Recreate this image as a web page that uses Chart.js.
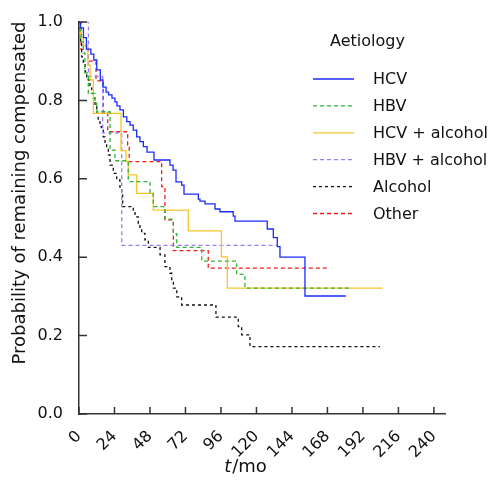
<!DOCTYPE html>
<html>
<head>
<meta charset="utf-8">
<script src="https://cdn.jsdelivr.net/npm/chart.js@4.4.1/dist/chart.umd.min.js"></script>
<style>
html, body { margin: 0; padding: 0; background: #fff; }
</style>
</head>
<body>
<canvas id="chart_km" width="496" height="481"></canvas>
<script>
// Kaplan-Meier steps: [month, probability after the drop]
const hcv = [[0,1],[1,0.985],[3,0.96],[5,0.931],[8,0.918],[10,0.903],[12,0.878],[14.4,0.852],[16.2,0.834],[18.3,0.821],[20,0.814],[22.3,0.806],[24.3,0.796],[25.7,0.786],[27.7,0.776],[30,0.758],[32.3,0.746],[34.5,0.737],[36.7,0.724],[39,0.707],[41.2,0.695],[43.5,0.682],[46,0.668],[50.7,0.648],[61.5,0.635],[63.6,0.622],[65.6,0.592],[69.4,0.584],[71,0.561],[80.7,0.548],[81.8,0.543],[85.2,0.536],[92,0.523],[95.3,0.516],[104.3,0.505],[105.5,0.492],[127.3,0.472],[131.4,0.45],[134.1,0.427],[135.9,0.4],[152.8,0.301],[180.5,0.301]];
const hbv = [[0,1],[0.7,0.95],[2.9,0.921],[4,0.87],[6.3,0.818],[10.8,0.793],[12,0.771],[21,0.673],[24.3,0.646],[33.3,0.593],[48,0.563],[50.2,0.529],[58.1,0.497],[63.8,0.46],[66.1,0.425],[83,0.39],[106.6,0.356],[112.2,0.321],[184.4,0.321]];
const hcvAlcohol = [[0,1],[1,0.96],[3,0.94],[6,0.89],[7.5,0.852],[9.7,0.767],[28.4,0.672],[31.8,0.644],[33.3,0.61],[39,0.563],[50.2,0.52],[73.9,0.467],[96.3,0.401],[100.3,0.321],[205.3,0.321]];
const hbvAlcohol = [[0,1],[6.4,0.861],[16,0.717],[28.9,0.43],[134,0.43]];
const alcohol = [[0,1],[0.7,0.98],[1.1,0.946],[1.8,0.911],[2.9,0.895],[4.1,0.873],[5.2,0.86],[6.3,0.852],[7.4,0.835],[8.6,0.818],[9.7,0.806],[10.8,0.784],[12,0.767],[13,0.746],[14.2,0.733],[15.3,0.724],[16.4,0.707],[17.6,0.691],[18.7,0.678],[19.8,0.661],[21,0.635],[23.2,0.614],[25.5,0.597],[27.7,0.576],[28.9,0.563],[29.5,0.529],[36.7,0.516],[37.9,0.503],[40.1,0.486],[41.2,0.474],[42.4,0.461],[44.6,0.444],[46.9,0.425],[54.8,0.406],[58.1,0.376],[61.5,0.359],[62.7,0.338],[63.8,0.321],[66.1,0.299],[69.4,0.278],[92.6,0.247],[107.7,0.223],[110,0.202],[115.6,0.172],[203.5,0.172]];
const other = [[0,1],[1.4,0.93],[6.2,0.9],[11.5,0.85],[16.4,0.771],[19.4,0.72],[32.9,0.686],[34,0.644],[55.9,0.58],[58.1,0.495],[63.8,0.417],[87.4,0.372],[167.5,0.372]];

const aetiologies = ['HCV', 'HBV', 'HCV + alcohol', 'HBV + alcohol', 'Alcohol', 'Other'];
const xTicks = [0, 24, 48, 72, 96, 120, 144, 168, 192, 216, 240];
const yTicks = [0, 0.2, 0.4, 0.6, 0.8, 1.0];

const styles = [
    { color: '#1a2bff', dash: [] },
    { color: '#30b530', dash: [4, 3] },
    { color: '#f7c52a', dash: [] },
    { color: '#9b7bf7', dash: [4, 3] },
    { color: '#111111', dash: [3, 3] },
    { color: '#f21c1c', dash: [4, 3] }
];
const FONT = '"DejaVu Sans", Verdana, sans-serif';

const kmDecor = {
    id: 'kmDecor',
    afterDatasetsDraw(chart) {
        const ctx = chart.ctx, x = chart.scales.x, y = chart.scales.y;
        ctx.save();
        // inward ticks
        ctx.strokeStyle = '#333';
        ctx.lineWidth = 1.5;
        ctx.setLineDash([]);
        ctx.beginPath();
        xTicks.forEach(v => {
            const px = x.getPixelForValue(v);
            ctx.moveTo(px, y.bottom); ctx.lineTo(px, y.bottom - 7);
        });
        yTicks.forEach(v => {
            const py = y.getPixelForValue(v);
            ctx.moveTo(x.left, py); ctx.lineTo(x.left + 8, py);
        });
        ctx.stroke();

        // legend
        ctx.fillStyle = '#111';
        ctx.font = '16px ' + FONT;
        ctx.textBaseline = 'middle';
        ctx.textAlign = 'left';
        ctx.fillText('Aetiology', 330, 42);
        chart.data.datasets.forEach((ds, i) => {
            const ly = 79 + 26.9 * i;
            ctx.strokeStyle = ds.borderColor;
            ctx.lineWidth = 1.3;
            ctx.setLineDash(ds.borderDash);
            ctx.beginPath();
            ctx.moveTo(313, ly); ctx.lineTo(354, ly);
            ctx.stroke();
            ctx.fillText(ds.label, 373, ly + 1);
        });
        ctx.setLineDash([]);

        // axis titles
        ctx.font = '18px ' + FONT;
        ctx.textAlign = 'center';
        ctx.save();
        ctx.translate(20, 193);
        ctx.rotate(-Math.PI / 2);
        ctx.fillText('Probability of remaining compensated', 0, 0);
        ctx.restore();

        ctx.textAlign = 'left';
        ctx.font = 'italic 18px ' + FONT;
        const wT = ctx.measureText('t').width;
        ctx.font = '18px ' + FONT;
        const wMo = ctx.measureText('/mo').width;
        const x0 = 245 - (wT + wMo) / 2;
        ctx.font = 'italic 18px ' + FONT;
        ctx.fillText('t', x0, 467);
        ctx.font = '18px ' + FONT;
        ctx.fillText('/mo', x0 + wT + 1, 467);
        ctx.restore();
    }
};

new Chart(document.getElementById('chart_km'), {
    type: 'line',
    data: {
        datasets: [hcv, hbv, hcvAlcohol, hbvAlcohol, alcohol, other].map((s, i) => ({
            label: aetiologies[i],
            data: s.map(kv => ({ x: kv[0], y: kv[1] })),
            borderColor: styles[i].color,
            borderDash: styles[i].dash,
            borderWidth: 1.3,
            stepped: true,
            pointRadius: 0,
            fill: false
        }))
    },
    options: {
        responsive: false,
        animation: false,
        layout: { padding: { top: 22, right: 51, left: 0, bottom: 0 } },
        scales: {
            x: {
                type: 'linear',
                min: 0,
                max: 247.5,
                afterBuildTicks: s => { s.ticks = xTicks.map(v => ({ value: v })); },
                afterFit: s => { s.height = 67; },
                grid: { display: false },
                border: { display: true, color: '#333', width: 1.5 },
                ticks: {
                    autoSkip: false,
                    maxRotation: 45,
                    minRotation: 45,
                    padding: 5,
                    color: '#111',
                    font: { family: FONT, size: 16 }
                }
            },
            y: {
                min: 0,
                max: 1,
                afterBuildTicks: s => { s.ticks = yTicks.map(v => ({ value: v })); },
                afterFit: s => { s.width = 79; },
                grid: { display: false },
                border: { display: true, color: '#333', width: 1.5 },
                ticks: {
                    padding: 8,
                    color: '#111',
                    font: { family: FONT, size: 16 },
                    callback: v => v.toFixed(1)
                }
            }
        },
        plugins: {
            legend: { display: false },
            tooltip: { enabled: false }
        }
    },
    plugins: [kmDecor]
});
</script>
</body>
</html>
